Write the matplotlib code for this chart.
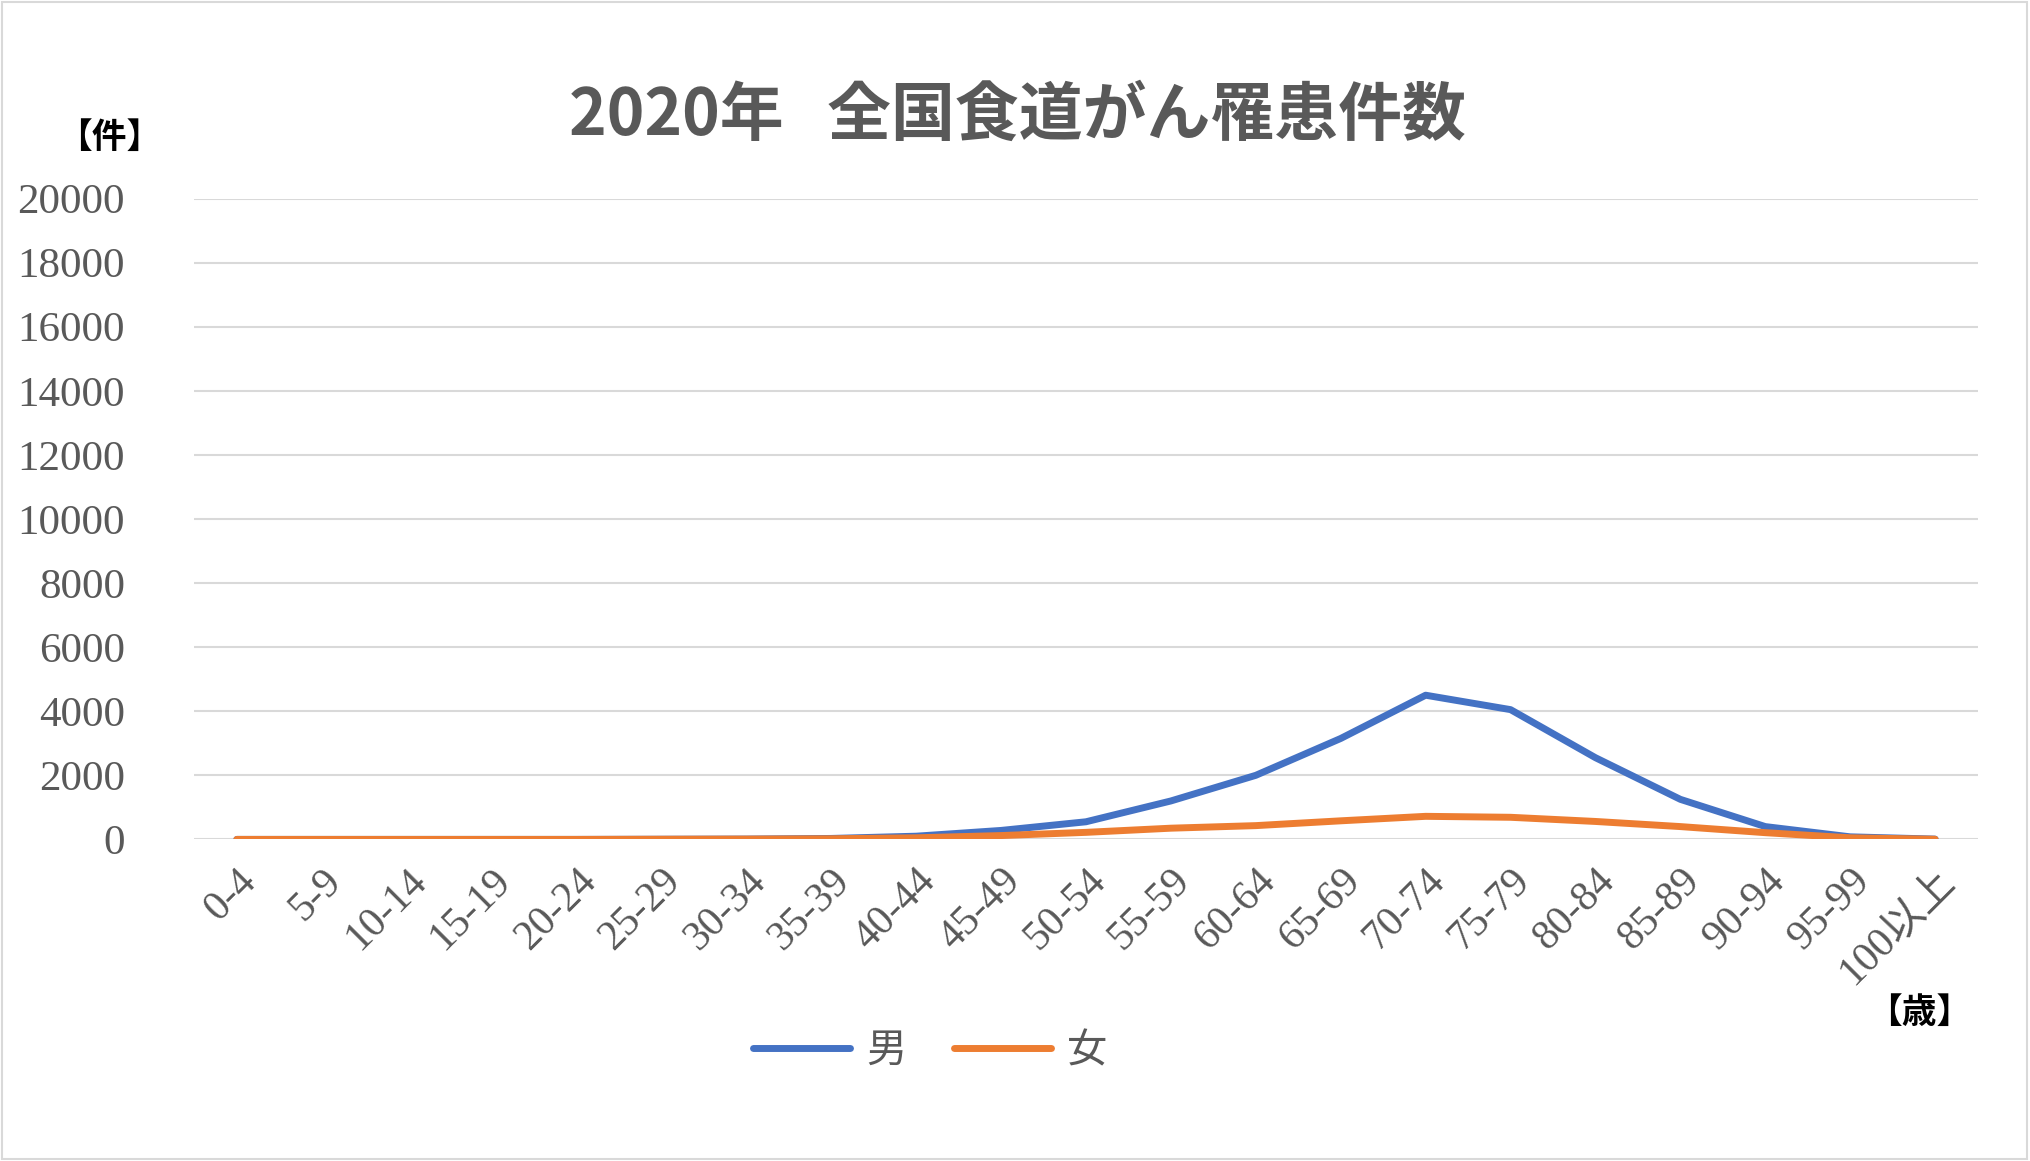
import matplotlib.pyplot as plt
from matplotlib.patches import Rectangle

ages = ["0-4", "5-9", "10-14", "15-19", "20-24", "25-29", "30-34", "35-39", "40-44",
        "45-49", "50-54", "55-59", "60-64", "65-69", "70-74", "75-79", "80-84",
        "85-89", "90-94", "95-99", "100以上"]
male = [0, 0, 0, 0, 0, 5, 10, 30, 100, 280, 550, 1200, 2000, 3150, 4500, 4050,
        2550, 1250, 400, 80, 10]
female = [0, 0, 0, 0, 0, 5, 10, 20, 50, 120, 220, 350, 430, 580, 720, 690, 560,
          400, 210, 50, 5]

fam = ["Liberation Serif", "Noto Sans CJK JP"]
gray = "#595959"

fig = plt.figure(figsize=(20.31, 11.61), dpi=100)
ax = fig.add_axes([0.0957, 0.277, 0.878, 0.552])
x = range(len(ages))
ax.plot(x, male, color="#4472C4", lw=5, label="男", solid_capstyle="round")
ax.plot(x, female, color="#ED7D31", lw=5, label="女", solid_capstyle="round")
ax.set_xlim(-0.5, len(ages) - 0.5)
ax.set_ylim(0, 20000)
ax.set_yticks(range(0, 20001, 2000))
ax.yaxis.grid(True, color="#D9D9D9", lw=1.5)
ax.set_axisbelow(True)
for s in ax.spines.values():
    s.set_visible(False)
ax.tick_params(axis="y", length=0, pad=50)
ax.tick_params(axis="x", length=0, pad=16)
ax.set_xticks(list(x))
ax.set_xticklabels(ages, rotation=45, ha="right", rotation_mode="anchor",
                   family=fam, fontsize=30, color=gray)
for t in ax.get_yticklabels():
    t.set_family(fam)
    t.set_fontsize(31)
    t.set_color(gray)

fig.text(0.501, 0.9, "2020年   全国食道がん罹患件数", ha="center", va="center",
         fontsize=46, fontweight="bold", color=gray,
         family=["Noto Sans CJK JP", "DejaVu Sans"])
fig.text(0.054, 0.882, "【件】", ha="center", va="center", fontsize=25,
         fontweight="bold", family="Noto Sans CJK JP", color="black")
fig.text(0.945, 0.128, "【歳】", ha="center", va="center", fontsize=25,
         fontweight="bold", family="Noto Sans CJK JP", color="black")
leg = fig.legend(loc="center", bbox_to_anchor=(0.458, 0.095), ncol=2, frameon=False,
                 prop={"family": "Noto Sans CJK JP", "size": 29}, handlelength=2.4,
                 handletextpad=0.4, columnspacing=1.2)
for t in leg.get_texts():
    t.set_color(gray)
fig.patches.append(Rectangle((0.001, 0.002), 0.997, 0.996, transform=fig.transFigure,
                             fill=False, edgecolor="#D9D9D9", lw=1.5))
fig.savefig("out.png", dpi=100)
